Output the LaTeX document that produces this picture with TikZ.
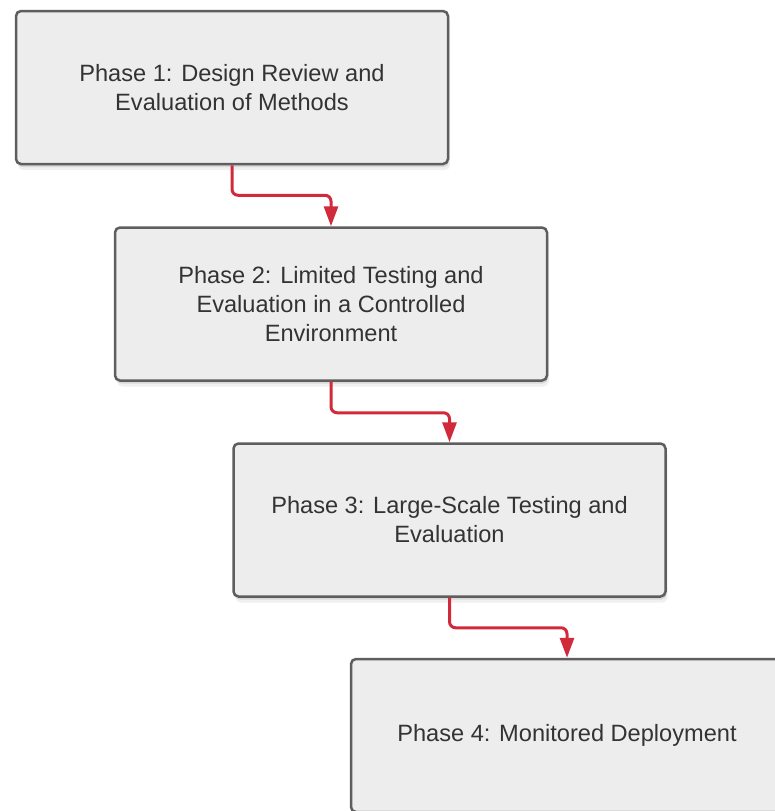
\documentclass[tikz,border=0pt]{standalone}
\usepackage{fontspec}
\setmainfont{Liberation Sans}
\usetikzlibrary{arrows.meta,shadows}
\definecolor{boxfill}{HTML}{EDEDED}
\definecolor{boxline}{HTML}{5E5E5E}
\definecolor{boxtext}{HTML}{333333}
\definecolor{flowred}{HTML}{D12A3A}

\begin{document}
\begin{tikzpicture}[x=1pt,y=-1pt,
  phase/.style={rectangle,rounded corners=5pt,draw=boxline,line width=2.5pt,fill=boxfill,
    minimum width=432pt,minimum height=153pt,align=center,text=boxtext,
    font=\fontsize{23.6}{29}\selectfont,
    drop shadow={opacity=0.12,shadow xshift=2pt,shadow yshift=-6pt},
    drop shadow={opacity=0.2,shadow xshift=1pt,shadow yshift=-3pt}},
  flow/.style={draw=flowred,line width=3pt,rounded corners=6pt,-{Triangle[width=14pt,length=20pt]}}]
  \useasboundingbox (0,0) rectangle (775,811);
  \clip (0,0) rectangle (775,811);
  \node[phase] (p1) at (232,87.5) {Phase 1: Design Review and\\Evaluation of Methods};
  \node[phase] (p2) at (331,304) {Phase 2: Limited Testing and\\Evaluation in a Controlled\\Environment};
  \node[phase] (p3) at (449.5,520) {Phase 3: Large-Scale Testing and\\Evaluation};
  \node[phase] (p4) at (567,735.5) {Phase 4: Monitored Deployment};
  \draw[flow] (p1.south) -- ++(0,30) -| (p2.north);
  \draw[flow] (p2.south) -- ++(0,31) -| (p3.north);
  \draw[flow] (p3.south) -- ++(0,30) -| (p4.north);
\end{tikzpicture}
\end{document}
